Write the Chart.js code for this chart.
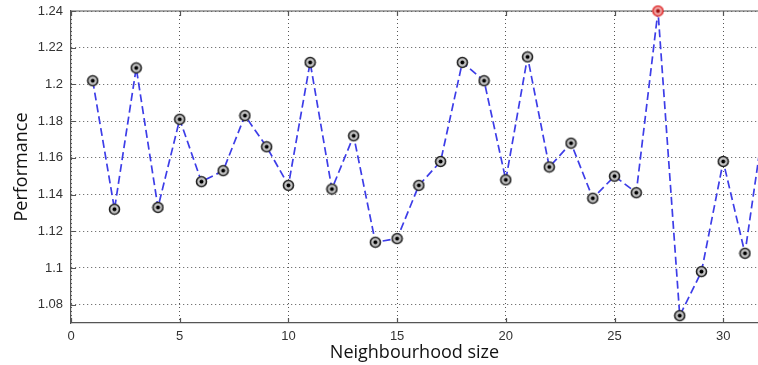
<!DOCTYPE html>
<html>
<head>
<meta charset="utf-8">
<script src="https://cdn.jsdelivr.net/npm/chart.js@4/dist/chart.umd.min.js"></script>
<style>
  html, body { margin: 0; padding: 0; background: #fff; overflow: hidden; }
  canvas { display: block; }
</style>
</head>
<body>
<canvas id="perfChart" width="758" height="365"></canvas>
<script>
// neighbourhood sizes (x) and measured performance (y)
const neighbourhoodSizes = [1, 2, 3, 4, 5, 6, 7, 8, 9, 10, 11, 12, 13, 14, 15, 16,
                            17, 18, 19, 20, 21, 22, 23, 24, 25, 26, 27, 28, 29, 30, 31, 32];
const performanceValues = [1.202, 1.132, 1.209, 1.133, 1.181, 1.147, 1.153, 1.183,
                           1.166, 1.145, 1.212, 1.143, 1.172, 1.114, 1.116, 1.145,
                           1.158, 1.212, 1.202, 1.148, 1.215, 1.155, 1.168, 1.138,
                           1.150, 1.141, 1.240, 1.074, 1.098, 1.158, 1.108, 1.190];
const xTickValues = [0, 5, 10, 15, 20, 25, 30];
const yTickValues = [1.08, 1.10, 1.12, 1.14, 1.16, 1.18, 1.20, 1.22, 1.24];

const bestIndex = performanceValues.indexOf(Math.max(...performanceValues));

// circle-with-dot marker, drawn once and reused as point style
function makeMarker(ring, fill, dot) {
    const c = document.createElement('canvas');
    c.width = 13; c.height = 13;
    const g = c.getContext('2d');
    g.beginPath();
    g.arc(6.5, 6.5, 5, 0, Math.PI * 2);
    g.fillStyle = fill;
    g.fill();
    g.lineWidth = 1.6;
    g.strokeStyle = ring;
    g.stroke();
    g.beginPath();
    g.arc(6.5, 6.5, 2, 0, Math.PI * 2);
    g.fillStyle = dot;
    g.fill();
    return c;
}
const blackMarker = makeMarker('#222', '#c4c4c4', '#000');
const redMarker = makeMarker('#e03030', '#f0a8a8', '#a01010');

// matlab-like box: top edge plus inward tick marks
const axesBox = {
    id: 'axesBox',
    beforeDatasetsDraw(chart) {
        const { ctx, chartArea: a, scales } = chart;
        ctx.save();
        ctx.strokeStyle = '#555';
        ctx.lineWidth = 1.2;
        ctx.beginPath();
        ctx.moveTo(a.left, a.top);
        ctx.lineTo(a.right, a.top);
        xTickValues.forEach(v => {
            const px = Math.round(scales.x.getPixelForValue(v)) + 0.5;
            ctx.moveTo(px, a.bottom); ctx.lineTo(px, a.bottom - 5);
            ctx.moveTo(px, a.top); ctx.lineTo(px, a.top + 5);
        });
        yTickValues.forEach(v => {
            const py = Math.round(scales.y.getPixelForValue(v)) + 0.5;
            ctx.moveTo(a.left, py); ctx.lineTo(a.left + 5, py);
        });
        ctx.stroke();
        ctx.restore();
    }
};

const ctx = document.getElementById('perfChart').getContext('2d');
new Chart(ctx, {
    type: 'scatter',
    data: {
        datasets: [{
            label: 'Performance',
            data: neighbourhoodSizes.map((s, i) => ({ x: s, y: performanceValues[i] })),
            showLine: true,
            borderColor: '#3d3de8',
            borderWidth: 1.7,
            borderDash: [8, 4],
            pointStyle: c => c.dataIndex === bestIndex ? redMarker : blackMarker,
            pointRadius: 6,
            pointHoverRadius: 6,
            clip: { left: 0, right: 0, top: 8, bottom: 0 },
        }],
    },
    options: {
        responsive: false,
        animation: false,
        events: [],
        layout: { autoPadding: false, padding: { top: 11, right: 0, left: 0, bottom: 0 } },
        plugins: {
            legend: { display: false },
            tooltip: { enabled: false },
        },
        scales: {
            x: {
                type: 'linear',
                min: 0,
                max: 31.6,
                afterBuildTicks: s => { s.ticks = xTickValues.map(v => ({ value: v })); },
                afterFit: s => { s.height = 42; s.paddingLeft = 0; s.paddingRight = 0; },
                grid: { color: '#555', drawTicks: false },
                border: { display: true, color: '#555', width: 1.2, dash: [1, 3] },
                ticks: {
                    padding: 6,
                    color: '#333',
                    font: { family: "'Liberation Sans', Arial, sans-serif", size: 13 },
                },
                title: {
                    display: true,
                    text: 'Neighbourhood size',
                    color: '#111',
                    font: { family: "'Open Sans', sans-serif", size: 18 },
                    padding: { top: 0, bottom: 1 },
                },
            },
            y: {
                min: 1.07,
                max: 1.24,
                afterBuildTicks: s => { s.ticks = yTickValues.map(v => ({ value: v })); },
                afterFit: s => { s.width = 71; s.paddingTop = 0; s.paddingBottom = 0; },
                grid: { color: '#555', drawTicks: false },
                border: { display: true, color: '#555', width: 1.2, dash: [1, 3] },
                ticks: {
                    padding: 8,
                    color: '#333',
                    font: { family: "'Liberation Sans', Arial, sans-serif", size: 13 },
                    callback: v => String(+v.toFixed(2)),
                },
                title: {
                    display: true,
                    text: 'Performance',
                    color: '#111',
                    font: { family: "'Open Sans', sans-serif", size: 18 },
                    padding: { top: 11, bottom: 0 },
                },
            },
        },
    },
    plugins: [axesBox],
});
</script>
</body>
</html>
